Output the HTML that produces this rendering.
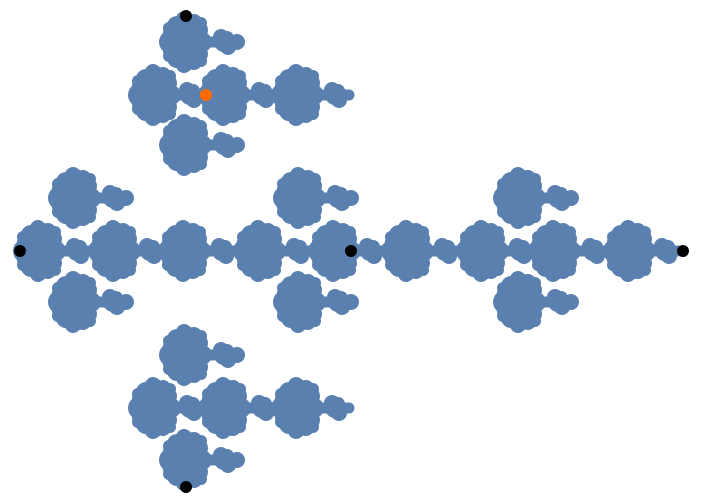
<!DOCTYPE html>
<html><head><meta charset="utf-8"><style>html,body{margin:0;padding:0;background:#fff;width:704px;height:504px;overflow:hidden}</style></head>
<body>
<svg id="plot" width="704" height="504" viewBox="0 0 704 504" xmlns="http://www.w3.org/2000/svg">
<g id="g" fill="#5a80b0" stroke="#5a80b0"></g>
</svg>
<script>
// cluster data (x,y)
const bigX = [40,115,185,260,335,408,483,555,630, 155,225,298, 155,225,298];
const bigY = [251,251,251,251,251,251,251,251,251, 95,95,95, 408,408,408];
const smallX = [77,150,222,297,370,445,520,593,665, 190,262,335, 190,262,335];
const smallY = [251,251,251,251,251,251,251,251,251, 95,95,95, 408,408,408];
const leafX = [75,75,300,300,520,520,186,186,186,186];
const leafY = [198,302,198,302,198,302,42,145,355,460];
const spineX0 = [26,134,134];
const spineX1 = [678,349,349];
const spineY = [251,95,408];
const blackX = [186,20,351,683,186];
const blackY = [16,251,251,251,487];
const orangeX = [206], orangeY = [95];

const g = document.getElementById('g');
const NS = 'http://www.w3.org/2000/svg';
function circ(cx,cy,r,fill,parent){
  const c=document.createElementNS(NS,'circle');
  c.setAttribute('cx',cx);c.setAttribute('cy',cy);c.setAttribute('r',r);
  if(fill){c.setAttribute('fill',fill);}
  c.setAttribute('stroke','none');
  (parent||g).appendChild(c);return c;
}
function line(x0,y0,x1,y1,w){
  const l=document.createElementNS(NS,'line');
  l.setAttribute('x1',x0);l.setAttribute('y1',y0);l.setAttribute('x2',x1);l.setAttribute('y2',y1);
  l.setAttribute('stroke-width',w);l.setAttribute('stroke-linecap','round');
  
  
  g.appendChild(l);
}
const lobes=[[0,0,17],[0,-18,11],[0,18,11],[-15,0,12],[13,-12,9],[13,12,9],[-9,-16,10],[-9,16,10],[8,-20,8],[8,20,8],[16,0,10],[-14,-9,9],[-14,9,9],[-2,-23,8],[-2,23,8],[-17,-14,6],[-17,14,6],[15,-19,6],[15,19,6]];
function big(x,y){
  const grp=document.createElementNS(NS,'g');
  
  
  g.appendChild(grp);
  lobes.forEach(l=>circ(x+l[0],y+l[1],l[2],null,grp));
}
function small(x,y){
  const grp=document.createElementNS(NS,'g');
  
  
  g.appendChild(grp);
  circ(x,y,10,null,grp);circ(x-3,y-5,8,null,grp);circ(x+4,y+5,8,null,grp);circ(x+3,y-4,7,null,grp);
}
for(let i=0;i<spineY.length;i++) line(spineX0[i],spineY[i],spineX1[i],spineY[i],11);
for(let i=0;i<bigX.length;i++) big(bigX[i],bigY[i]);
for(let i=0;i<smallX.length;i++) small(smallX[i],smallY[i]);
for(let i=0;i<leafX.length;i++){
  const x=leafX[i],y=leafY[i];
  line(x,y,x+53,y,11);
  big(x,y);
  small(x+38,y);
  circ(x+51,y,8);
}
for(let i=0;i<blackX.length;i++){
  const c=circ(blackX[i],blackY[i],6,'#000');
  
  
}
for(let i=0;i<orangeX.length;i++){
  const c=circ(orangeX[i],orangeY[i],6,'#ff6a00');
  
  
}
</script>
</body></html>
